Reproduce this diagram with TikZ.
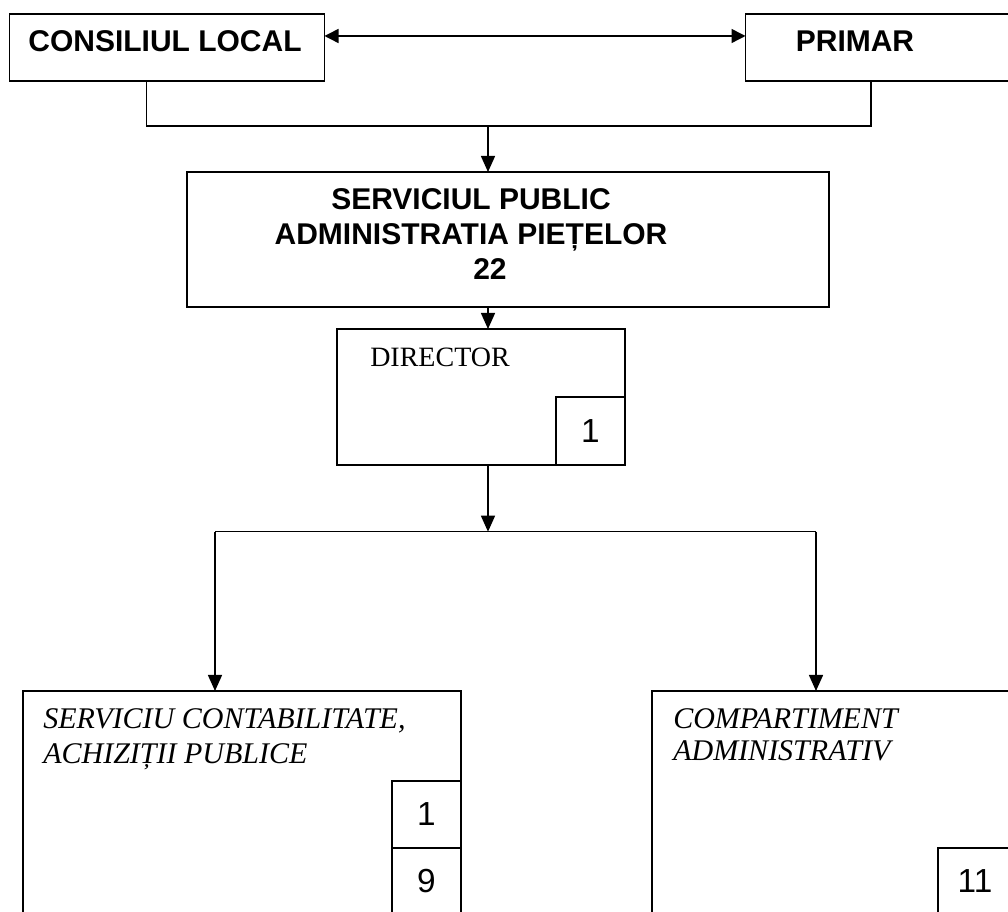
\documentclass[tikz,border=0pt]{standalone}
\usepackage{fontspec}
\setmainfont{Liberation Serif}
\newfontfamily\arialfont{Liberation Sans}
\usetikzlibrary{arrows.meta}
\newdimen\px
\px=0.75pt

\begin{document}
\begin{tikzpicture}[x=0.75pt, y=-0.75pt,
    box/.style = {draw, line width=1.1pt, inner sep=0pt, outer sep=0pt},
    num box/.style = {box, font=\arialfont\fontsize{25}{30}\selectfont},
    head text/.style = {inner sep=0pt, font=\arialfont\bfseries\fontsize{22.5}{26.6}\selectfont},
    fancy text/.style = {inner sep=0pt, font=\fontsize{21}{26}\selectfont},
    slanted text/.style = {inner sep=0pt, align=left, font=\itshape\fontsize{22.5}{26.25}\selectfont},
    line/.style = {line width=1.1pt},
    down arrow/.style = {line, -{Triangle[length=12pt, width=10.5pt]}},
    both arrow/.style = {line, {Triangle[length=10.5pt, width=10.5pt]}-{Triangle[length=10.5pt, width=10.5pt]}}
  ]
  \useasboundingbox (0,0) rectangle (1008,912);
  \clip (0,0) rectangle (1008,912);

  % top row
  \node[box, minimum width=315\px, minimum height=67\px] (cl) at (167,47.5) {};
  \node[box, minimum width=266.5\px, minimum height=67\px] (pr) at (878.75,47.5) {};
  \node[head text, anchor=base] (cltext) at (165,52) {CONSILIUL LOCAL};
  \node[head text, anchor=base] (prtext) at (855,52) {PRIMAR};

  \draw[both arrow] ([yshift=11.5\px]cl.east) -- ([yshift=11.5\px]pr.west);

  \coordinate (join) at (488,126);
  \draw[line] ([xshift=-20.5\px]cl.south) |- (join) -| ([xshift=-7.75\px]pr.south);

  % service
  \node[box, minimum width=642\px, minimum height=135\px] (sp) at (508,239.5) {};
  \node[head text, align=center] (sptext) at (471,234)
    {SERVICIUL PUBLIC\\ADMINISTRATIA PIEȚELOR\\\hspace*{38\px}22};
  \draw[down arrow] (join) -- (join |- sp.north);

  % director
  \node[box, minimum width=288\px, minimum height=136\px] (dir) at (481,397) {};
  \node[fancy text, anchor=base west] (dirtext) at (370,367) {DIRECTOR};
  \node[num box, minimum width=69\px, minimum height=68\px, anchor=south east] (dirnum) at (dir.south east) {1};
  \draw[down arrow] (sp.south -| join) -- (dir.north -| join);

  \coordinate (split) at (488,531.7);
  \coordinate (splitl) at (215,531.7);
  \coordinate (splitr) at (816,531.7);
  \draw[down arrow] (dir.south -| split) -- (split);
  \draw[line] (splitl) -- (splitr);

  % bottom row
  \node[box, minimum width=438\px, minimum height=224\px] (lb) at (242,803) {};
  \node[slanted text, anchor=north west] (lbtext) at (43,708) {SERVICIU CONTABILITATE,\\ACHIZIȚII PUBLICE};
  \node[num box, minimum width=69\px, minimum height=67\px, anchor=south east] (lbnine) at (lb.south east) {9};
  \node[num box, minimum width=69\px, minimum height=67\px, anchor=south] (lbone) at (lbnine.north) {1};

  \node[box, minimum width=360\px, minimum height=224\px] (rb) at (832,803) {};
  \node[slanted text, font=\itshape\fontsize{22.5}{24}\selectfont, anchor=north west] (rbtext) at (673,708) {COMPARTIMENT\\ADMINISTRATIV};
  \node[num box, minimum width=74\px, minimum height=67\px, anchor=south east] (rbnum) at (rb.south east) {11};

  \draw[down arrow] (splitl) -- (splitl |- lb.north);
  \draw[down arrow] (splitr) -- (splitr |- rb.north);
\end{tikzpicture}
\end{document}
